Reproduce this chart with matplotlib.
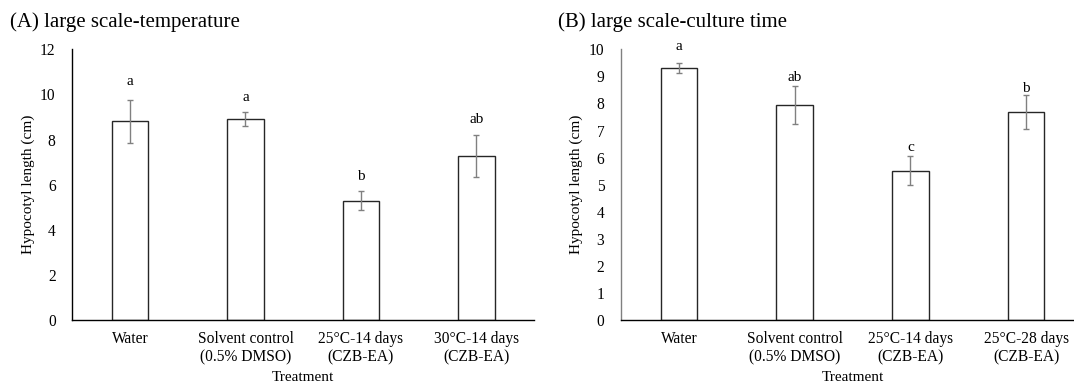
import numpy as np
import matplotlib
matplotlib.use("Agg")
import matplotlib.pyplot as plt

plt.rcParams['font.family'] = ['Liberation Serif', 'DejaVu Serif']

# hypocotyl length (cm), mean and error, with significance letters
labels_temp = ['Water', 'Solvent control\n(0.5% DMSO)', '25°C-14 days\n(CZB-EA)', '30°C-14 days\n(CZB-EA)']
mean_temp = [8.80, 8.92, 5.29, 7.27]
err_temp = [0.96, 0.30, 0.43, 0.92]
sig_temp = ['a', 'a', 'b', 'ab']

labels_time = ['Water', 'Solvent control\n(0.5% DMSO)', '25°C-14 days\n(CZB-EA)', '25°C-28 days\n(CZB-EA)']
mean_time = [9.31, 7.95, 5.52, 7.68]
err_time = [0.20, 0.70, 0.52, 0.63]
sig_time = ['a', 'ab', 'c', 'b']

# letter gap above each error bar, in pixels
gap_temp = [18, 15, 14, 16]
gap_time = [16, 8, 9, 7]

W, H = 1074, 386
fig = plt.figure(figsize=(W / 100, H / 100), dpi=100)
axA = fig.add_axes([72.3 / W, 66 / H, 461.7 / W, 270.7 / H])
axB = fig.add_axes([621 / W, 66 / H, 463 / W, 270.7 / H])


def draw(ax, labels, means, errs, sig, gaps, ymax, step, left_col):
    x = np.arange(len(labels))
    ax.bar(x, means, width=0.317, color='white', edgecolor='#262626', linewidth=1, zorder=2)
    ax.errorbar(x, means, yerr=errs, fmt='none', ecolor='#808080', elinewidth=1,
                capsize=2.2, capthick=1, zorder=3)
    for xi, m, e, s, g in zip(x, means, errs, sig, gaps):
        ax.annotate(s, (xi, m + e), xytext=(0, g * 0.72), textcoords='offset points',
                    ha='center', va='center', fontsize=11)
    ax.set_xlim(-0.5, len(labels) - 0.5)
    ax.set_ylim(0, ymax)
    ax.set_yticks(np.arange(0, ymax + 0.1, step))
    ax.set_xticks(x, labels)
    ax.tick_params(axis='both', length=0, labelsize=11.2)
    ax.tick_params(axis='y', pad=12)
    ax.tick_params(axis='x', pad=8)
    for side in ['top', 'right']:
        ax.spines[side].set_visible(False)
    ax.spines['left'].set_color(left_col)
    ax.spines['bottom'].set_color('black')
    ax.spines['left'].set_linewidth(1)
    ax.spines['bottom'].set_linewidth(1)
    ax.set_ylabel('Hypocotyl length (cm)', fontsize=11, va='center')
    ax.set_xlabel('Treatment', fontsize=11)
    ax.yaxis.set_label_coords(-0.096, 0.5)
    ax.xaxis.set_label_coords(0.5, -0.19)


draw(axA, labels_temp, mean_temp, err_temp, sig_temp, gap_temp, 12, 2, 'black')
draw(axB, labels_time, mean_time, err_time, sig_time, gap_time, 10, 1, '#808080')

fig.text(10 / W, 1 - 22 / H, '(A) large scale-temperature', fontsize=15, va='center', ha='left')
fig.text(558 / W, 1 - 22 / H, '(B) large scale-culture time', fontsize=15, va='center', ha='left')

fig.savefig('out.png', dpi=100)
